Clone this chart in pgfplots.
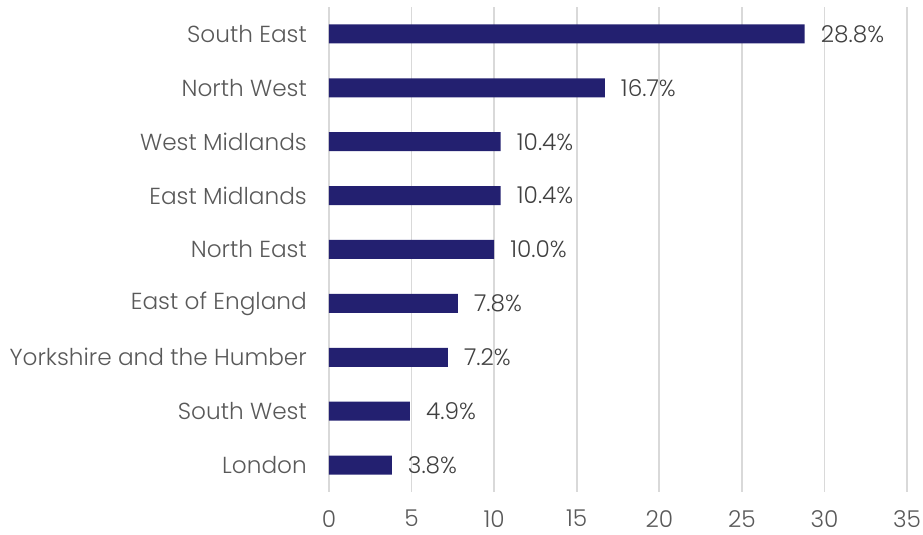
\documentclass[border=0pt]{standalone}
\usepackage{fontspec}
\setmainfont{Poppins}[UprightFont={* Light}]
\usepackage{pgfplots}
\pgfplotsset{compat=1.18}
\definecolor{barc}{HTML}{232070}
\definecolor{gridc}{HTML}{D9D9D9}
\definecolor{labc}{HTML}{595959}
\definecolor{valc}{HTML}{404040}
\begin{document}
\begin{tikzpicture}[x=1pt,y=1pt]
\begin{axis}[
  name=ax,
  xbar,
  scale only axis,
  width=578pt, height=485pt,
  xmin=0, xmax=35,
  ymin=-0.5, ymax=8.5,
  bar width=19pt,
  axis line style={draw=none},
  xtick={0,5,...,35},
  ytick={0,...,8},
  yticklabels={London,South West,Yorkshire and the Humber,East of England,North East,East Midlands,West Midlands,North West,South East},
  major tick length=0pt,
  xmajorgrids,
  major grid style={gridc, line width=1.8pt},
  /pgf/number format/assume math mode=true,
  tick label style={font=\fontsize{23.2}{27}\selectfont, text=labc},
  yticklabel style={inner sep=0pt, xshift=-22pt},
  xticklabel style={inner sep=0pt, yshift=-18pt},
  nodes near coords={\pgfmathprintnumber[fixed,fixed zerofill,precision=1]{\pgfplotspointmeta}\%},
  nodes near coords style={font=\fontsize{23.2}{27}\selectfont, text=valc, anchor=west, inner sep=0pt, xshift=16pt},
  clip=false,
]
\addplot[fill=barc, draw=none] coordinates {
(3.8,0) (4.9,1) (7.2,2) (7.8,3) (10.0,4) (10.4,5) (10.4,6) (16.7,7) (28.8,8)
};
\end{axis}
\pgfresetboundingbox
\useasboundingbox ([shift={(-329pt,-43pt)}]ax.south west) rectangle ([shift={(16pt,7pt)}]ax.north east);
\end{tikzpicture}
\end{document}
